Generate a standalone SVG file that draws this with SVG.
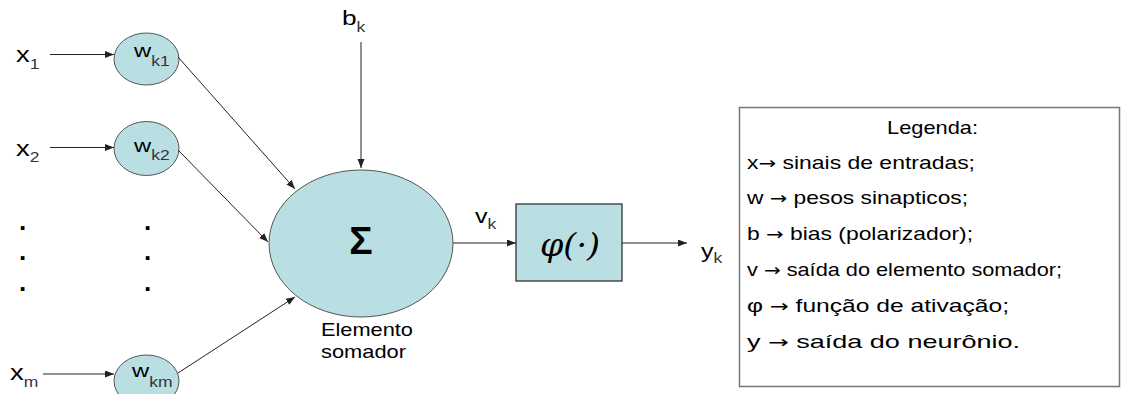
<svg xmlns="http://www.w3.org/2000/svg" width="1124" height="394" viewBox="0 0 1124 394">
<style>
text{font-family:"Liberation Sans",Arial,sans-serif;fill:#000}
.lbl{font-size:22px}
.wl{font-size:19px}
.sub{font-size:14px;fill:#333}
.leg{font-size:18.5px}
.ar{font-family:"DejaVu Sans",sans-serif;font-size:17px}
.node{fill:#b9dfe3;stroke:#555;stroke-width:1}
.conn line{stroke:#222;stroke-width:1;marker-end:url(#ah)}
.dot{font-size:26px;font-weight:bold}
</style>
<defs>
<marker id="ah" markerUnits="userSpaceOnUse" markerWidth="10" markerHeight="8" refX="9" refY="3.5" orient="auto">
<path d="M0,0 L9,3.5 L0,7 z" fill="#222"/>
</marker>
</defs>
<rect width="1124" height="394" fill="#fff"/>

<g id="x1"><text class="lbl" transform="translate(16,62) scale(1.25,1)">x<tspan class="sub" dy="7">1</tspan></text></g>
<g id="x2"><text class="lbl" transform="translate(16,156) scale(1.25,1)">x<tspan class="sub" dy="6">2</tspan></text></g>
<g id="xm"><text class="lbl" transform="translate(10,380) scale(1.25,1)">x<tspan class="sub" dy="7">m</tspan></text></g>

<g id="dots">
<text class="dot" x="19" y="230">.</text>
<text class="dot" x="19" y="260">.</text>
<text class="dot" x="19" y="291">.</text>
<text class="dot" x="144" y="230">.</text>
<text class="dot" x="144" y="260">.</text>
<text class="dot" x="144" y="291">.</text>
</g>

<g id="wk1"><ellipse class="node" cx="146.5" cy="59" rx="32.5" ry="26"/>
<text class="wl" transform="translate(134,57) scale(1.25,1)">w<tspan class="sub" dy="9">k1</tspan></text></g>
<g id="wk2"><ellipse class="node" cx="146.5" cy="148.5" rx="32.5" ry="27"/>
<text class="wl" transform="translate(134,152) scale(1.25,1)">w<tspan class="sub" dy="8">k2</tspan></text></g>
<g id="wkm"><ellipse class="node" cx="146.5" cy="381" rx="32.5" ry="26"/>
<text class="wl" transform="translate(132,377) scale(1.25,1)">w<tspan class="sub" dy="10">km</tspan></text></g>

<g id="bk"><text style="font-size:21px" transform="translate(342,25) scale(1.25,1)">b<tspan class="sub" dy="7">k</tspan></text></g>

<g id="sum"><ellipse class="node" cx="361" cy="243.5" rx="92" ry="73.5"/>
<text x="361" y="254" text-anchor="middle" style="font-size:39px;font-weight:bold">Σ</text>
<text class="leg" x="321" y="336" textLength="92" lengthAdjust="spacingAndGlyphs" style="font-size:19px">Elemento</text>
<text class="leg" x="321" y="358" textLength="85" lengthAdjust="spacingAndGlyphs" style="font-size:19px">somador</text></g>

<g id="vk"><text style="font-size:20px" transform="translate(475,223) scale(1.25,1)">v<tspan class="sub" dy="6">k</tspan></text></g>

<g id="phi"><rect x="516" y="204" width="106" height="77" fill="#b9dfe3" stroke="#333" stroke-width="1.3"/>
<text x="540" y="256" textLength="60" lengthAdjust="spacingAndGlyphs" style="font-family:'DejaVu Serif',serif;font-style:italic;font-size:31px">φ(·)</text></g>

<g id="yk"><text style="font-size:20px" transform="translate(701,258) scale(1.25,1)">y<tspan class="sub" dy="5">k</tspan></text></g>

<g class="conn" id="connectors">
<line x1="50" y1="54.5" x2="114" y2="54.5"/>
<line x1="50" y1="147.5" x2="114" y2="147.5"/>
<line x1="43" y1="374" x2="114" y2="374"/>
<line x1="178" y1="57" x2="295" y2="189"/>
<line x1="178" y1="150" x2="268" y2="242"/>
<line x1="178" y1="373" x2="295" y2="297"/>
<line x1="361" y1="42" x2="361" y2="168"/>
<line x1="453" y1="243" x2="516" y2="243"/>
<line x1="622" y1="243" x2="687" y2="243"/>
</g>

<g id="legend">
<rect x="739.5" y="107.5" width="380" height="279" fill="#fff" stroke="#777" stroke-width="1.5"/>
<text class="leg" x="887" y="134" textLength="91" lengthAdjust="spacingAndGlyphs">Legenda:</text>
<text class="leg" x="747" y="169" textLength="228" lengthAdjust="spacingAndGlyphs">x<tspan class="ar">→</tspan> sinais de entradas;</text>
<text class="leg" x="747" y="204" textLength="221" lengthAdjust="spacingAndGlyphs">w <tspan class="ar">→</tspan> pesos sinapticos;</text>
<text class="leg" x="747" y="240" textLength="226" lengthAdjust="spacingAndGlyphs">b <tspan class="ar">→</tspan> bias (polarizador);</text>
<text class="leg" x="747" y="276" textLength="315" lengthAdjust="spacingAndGlyphs">v <tspan class="ar">→</tspan> saída do elemento somador;</text>
<text class="leg" x="747" y="312" textLength="262" lengthAdjust="spacingAndGlyphs">φ <tspan class="ar">→</tspan> função de ativação;</text>
<text class="leg" x="747" y="348" textLength="273" lengthAdjust="spacingAndGlyphs">y <tspan class="ar">→</tspan> saída do neurônio.</text>
</g>
</svg>
